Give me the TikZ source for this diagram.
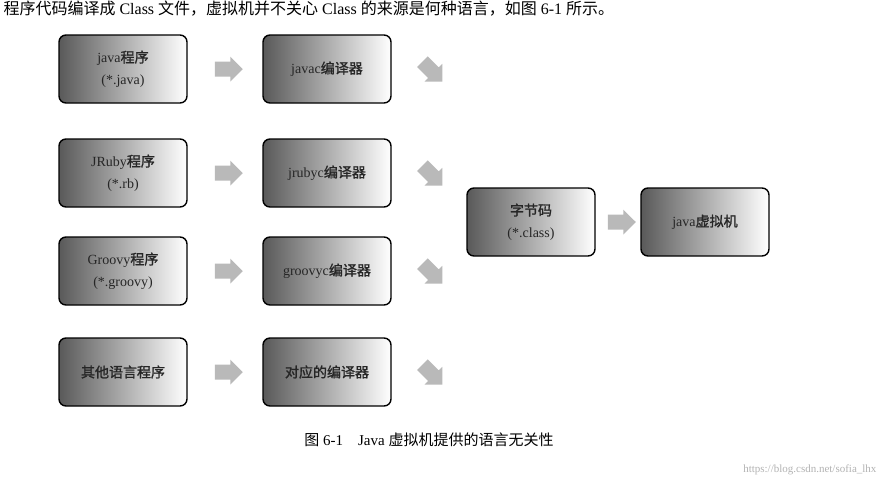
\documentclass[tikz,border=0pt]{standalone}
\usepackage{fontspec}
\setmainfont{Liberation Serif}
\newfontfamily\cjk{Noto Sans CJK SC}[FakeBold=1.5]
\newfontfamily\cjkl{Noto Sans CJK SC}
\usetikzlibrary{shapes.arrows,calc}
\begin{document}
\begin{tikzpicture}[x=1pt,y=-1pt,
  bx/.style={draw=black,line width=1.4pt,rounded corners=7pt,minimum width=128pt,minimum height=68pt,left color=gray!70!black,right color=white,align=center,font=\fontsize{14}{22}\selectfont,text=black!85},
  ar/.style={single arrow,fill=gray!55,minimum height=28pt,inner xsep=1pt,inner ysep=5pt,single arrow head extend=5pt}]
\useasboundingbox (0,0) rectangle (888,491);
\node[anchor=west,font=\fontsize{16}{18}\selectfont] (top) at (0,9) {{\cjkl 程序代码编译成} Class {\cjkl 文件，虚拟机并不关心} Class {\cjkl 的来源是何种语言，如图} 6-1 {\cjkl 所示。}};
\node[bx] (a1) at (123,69) {java{\cjk 程序}\\(*.java)};
\node[bx] (a2) at (123,173) {JRuby{\cjk 程序}\\(*.rb)};
\node[bx] (a3) at (123,271) {Groovy{\cjk 程序}\\(*.groovy)};
\node[bx] (a4) at (123,372) {\cjk 其他语言程序};
\node[bx] (b1) at (327,69) {javac{\cjk 编译器}};
\node[bx] (b2) at (327,173) {jrubyc{\cjk 编译器}};
\node[bx] (b3) at (327,271) {groovyc{\cjk 编译器}};
\node[bx] (b4) at (327,372) {\cjk 对应的编译器};
\node[bx] (c) at (531,222) {\cjk 字节码\\(*.class)};
\node[bx] (d) at (705,222) {java{\cjk 虚拟机}};
\foreach \i in {1,2,3,4}{
  \node[ar] (h\i) at ($(a\i.east)!0.5!(b\i.west)$) {\phantom{x}};
  \node[ar,rotate=-45] (g\i) at ([xshift=38pt]b\i.east) {\phantom{x}};
}
\node[ar] (hc) at ($(c.east)!0.5!(d.west)$) {\phantom{x}};
\node[font=\fontsize{15}{17}\selectfont] (cap) at (429,440) {{\cjkl 图} 6-1\quad Java {\cjkl 虚拟机提供的语言无关性}};
\node[font=\fontsize{11}{13}\selectfont,text=gray!60,anchor=east] (wm) at (880,470) {https://blog.csdn.net/sofia\_lhx};
\end{tikzpicture}
\end{document}
